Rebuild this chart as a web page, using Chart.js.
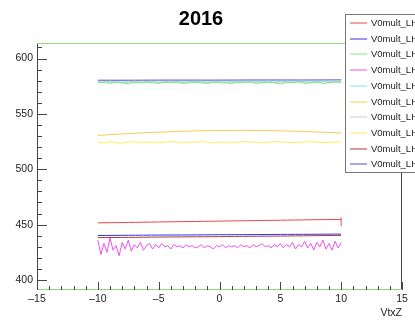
<!DOCTYPE html>
<html>
<head>
<meta charset="utf-8">
<script src="https://cdn.jsdelivr.net/npm/chart.js@4/dist/chart.umd.min.js"></script>
<style>
  html, body { margin: 0; padding: 0; background: #fff; }
  canvas { display: block; }
</style>
</head>
<body>
<canvas id="c" width="415" height="325"></canvas>
<script>
// run periods shown in the legend
const periods = ['V0mult_LHC16d', 'V0mult_LHC16e', 'V0mult_LHC16g', 'V0mult_LHC16h', 'V0mult_LHC16i',
                 'V0mult_LHC16j', 'V0mult_LHC16k', 'V0mult_LHC16l', 'V0mult_LHC16o', 'V0mult_LHC16p'];
const colours = ['rgb(235,70,70)', 'rgb(50,50,230)', 'rgb(130,230,130)', 'rgb(240,80,240)', 'rgb(120,225,240)',
                 'rgb(250,200,80)', 'rgb(205,205,205)', 'rgb(250,240,90)', 'rgb(170,60,60)', 'rgb(80,80,190)'];

const xTicks = [-15, -10, -5, 0, 5, 10, 15];
const yTicks = [400, 450, 500, 550, 600];

// coarse bins for the smooth curves, fine bins for the noisy ones
const xCoarse = [-10, -7.5, -5, -2.5, 0, 2.5, 5, 7.5, 10];
const xHalf = Array.from({length: 41}, (_, i) => -10 + i * 0.5);
const xQuarter = Array.from({length: 81}, (_, i) => -10 + i * 0.25);

const lhc16d = [451.6, 452.0, 452.4, 452.8, 453.2, 453.6, 454.0, 454.4, 454.7];
const lhc16e = [440.2, 440.4, 440.6, 440.7, 440.9, 441.0, 441.2, 441.3, 441.5];
const lhc16g = [578, 579, 577.5, 578.5, 578, 577, 578.5, 578, 579, 578,
                577.5, 578.5, 578, 578.5, 577.5, 578, 578.5, 578, 577.5, 578.5,
                578, 578, 577.5, 578.5, 578, 579, 577.5, 578, 578.5, 578,
                577, 578.5, 578, 579, 577.5, 578, 578.5, 577.5, 578, 579, 578];
const lhc16h = [436, 423, 433, 425, 438, 427, 431, 422, 434, 428,
                436, 426, 432, 429, 434, 427, 431, 433, 428, 432, 429,
                433, 430, 431, 428, 432, 430, 431, 429, 432, 430,
                431, 429, 430, 432, 429, 431, 430, 428, 431, 430,
                432, 429, 431, 430, 431, 429, 432, 430, 431, 429,
                432, 430, 431, 433, 430, 431, 429, 432, 430, 433,
                429, 432, 430, 434, 428, 432, 430, 435, 429, 433,
                427, 434, 430, 436, 428, 433, 427, 435, 429, 434];
const lhc16i = [578.6, 578.7, 578.7, 578.8, 578.8, 578.8, 578.9, 578.9, 579.0];
const lhc16j = [530.6, 532.2, 533.5, 534.5, 535.0, 535.1, 534.7, 533.9, 532.7];
const lhc16k = [579, 578.5, 579.5, 579, 578.5, 579, 579.5, 578.5, 579, 579,
                578.5, 579, 579.5, 579, 578.5, 579, 579, 579.5, 578.5, 579,
                579, 578.5, 579, 579.5, 579, 578.5, 579, 579, 579.5, 578.5,
                579, 579, 578.5, 579.5, 579, 578.5, 579, 579.5, 578.5, 579, 579];
const lhc16l = [524.5, 523.5, 525, 524, 523.5, 524.5, 525, 524, 524.5, 524.5,
                524, 524.5, 525, 524.5, 524, 524.5, 524.5, 525, 524.5, 524,
                524.5, 524.5, 524, 524.5, 525, 524.5, 524.5, 524, 524.5, 525,
                524.5, 524.5, 524, 524.5, 524.5, 525, 524.5, 524, 524.5, 524.5, 524.5];
const lhc16o = [438.3, 438.5, 438.8, 439.0, 439.2, 439.5, 439.7, 440.0, 440.3];
const lhc16p = [580.4, 580.4, 580.5, 580.5, 580.5, 580.6, 580.6, 580.6, 580.7];
const lhc16dErr = [448.5, 456.5];

const seriesValues = [lhc16d, lhc16e, lhc16g, lhc16h, lhc16i, lhc16j, lhc16k, lhc16l, lhc16o, lhc16p];
const seriesX = [xCoarse, xCoarse, xHalf, xQuarter, xCoarse, xCoarse, xHalf, xHalf, xCoarse, xCoarse];

const datasets = periods.map((name, i) => ({
    label: name,
    data: seriesValues[i].map((v, j) => ({x: seriesX[i][j], y: v})),
    borderColor: colours[i],
    borderWidth: 1,
    pointRadius: 0,
    tension: seriesX[i] === xCoarse ? 0.3 : 0
}));
datasets.push({
    label: 'err',
    data: lhc16dErr.map(v => ({x: 10, y: v})),
    borderColor: colours[0],
    borderWidth: 1,
    pointRadius: 0
});
// draw the first listed series on top, like the reference
datasets.forEach((d, i) => { d.order = i; });

const font = 'Liberation Sans, Arial, sans-serif';

const rootFrame = {
    id: 'rootFrame',
    afterDatasetsDraw(chart) {
        const ctx = chart.ctx;
        const a = chart.chartArea;
        const xs = chart.scales.x, ys = chart.scales.y;
        ctx.save();
        ctx.lineWidth = 1;
        // frame
        ctx.strokeStyle = '#444';
        ctx.beginPath();
        ctx.moveTo(a.left + 0.5, a.top); ctx.lineTo(a.left + 0.5, a.bottom);
        ctx.moveTo(a.right - 0.5, a.top); ctx.lineTo(a.right - 0.5, a.bottom);
        ctx.stroke();
        ctx.strokeStyle = 'rgb(150,215,130)';
        ctx.beginPath();
        ctx.moveTo(a.left, a.top + 0.5); ctx.lineTo(a.right, a.top + 0.5);
        ctx.moveTo(a.left, a.bottom - 0.5); ctx.lineTo(a.right, a.bottom - 0.5);
        ctx.stroke();
        // inward ticks
        ctx.strokeStyle = '#444';
        ctx.beginPath();
        for (let v = 400; v <= 610; v += 10) {
            const py = Math.round(ys.getPixelForValue(v)) + 0.5;
            const len = v % 50 === 0 ? 10 : 5;
            ctx.moveTo(a.left, py); ctx.lineTo(a.left + len, py);
        }
        for (let v = -15; v <= 15; v += 1) {
            const px = Math.round(xs.getPixelForValue(v)) + 0.5;
            const len = v % 5 === 0 ? 8 : 4;
            ctx.moveTo(px, a.bottom); ctx.lineTo(px, a.bottom - len);
        }
        ctx.stroke();
        ctx.restore();
    },
    afterDraw(chart) {
        const ctx = chart.ctx;
        ctx.save();
        const left = 345.5, top = 14.5;
        ctx.fillStyle = '#fff';
        ctx.fillRect(left, top, 80, 158);
        ctx.strokeStyle = '#777';
        ctx.lineWidth = 1;
        ctx.strokeRect(left, top, 80, 158);
        ctx.font = '9.5px ' + font;
        ctx.textBaseline = 'middle';
        periods.forEach((name, i) => {
            const y = Math.round(23 + i * 15.7);
            ctx.strokeStyle = colours[i];
            ctx.beginPath();
            ctx.moveTo(350, y); ctx.lineTo(367, y);
            ctx.stroke();
            ctx.fillStyle = '#222';
            ctx.fillText(name, 371, y);
        });
        ctx.restore();
    }
};

new Chart(document.getElementById('c'), {
    type: 'line',
    data: { datasets },
    options: {
        responsive: false,
        animation: false,
        layout: { padding: { right: 13, left: 0, bottom: 0, top: 0 } },
        plugins: {
            legend: { display: false },
            tooltip: { enabled: false },
            title: {
                display: true,
                text: '2016',
                color: '#000',
                font: { family: font, size: 20, weight: 'bold' },
                padding: { top: 7, bottom: 12 }
            }
        },
        scales: {
            x: {
                type: 'linear',
                min: -15, max: 15,
                afterBuildTicks: s => { s.ticks = xTicks.map(v => ({value: v})); },
                afterFit: s => { s.height = 35; },
                grid: { display: false, drawTicks: false },
                border: { display: false },
                ticks: {
                    padding: 3,
                    color: '#222',
                    font: { family: font, size: 10.5 },
                    maxRotation: 0,
                    callback: v => (v < 0 ? '\u2013' + Math.abs(v) : String(v))
                },
                title: {
                    display: true,
                    text: 'VtxZ',
                    align: 'end',
                    color: '#222',
                    font: { family: font, size: 10.5 },
                    padding: { top: 0, bottom: 6 }
                }
            },
            y: {
                type: 'linear',
                min: 391, max: 614,
                afterBuildTicks: s => { s.ticks = yTicks.map(v => ({value: v})); },
                afterFit: s => { s.width = 37; },
                grid: { display: false, drawTicks: false },
                border: { display: false },
                ticks: {
                    padding: 4,
                    color: '#222',
                    font: { family: font, size: 10.5 }
                }
            }
        }
    },
    plugins: [rootFrame]
});
</script>
</body>
</html>
